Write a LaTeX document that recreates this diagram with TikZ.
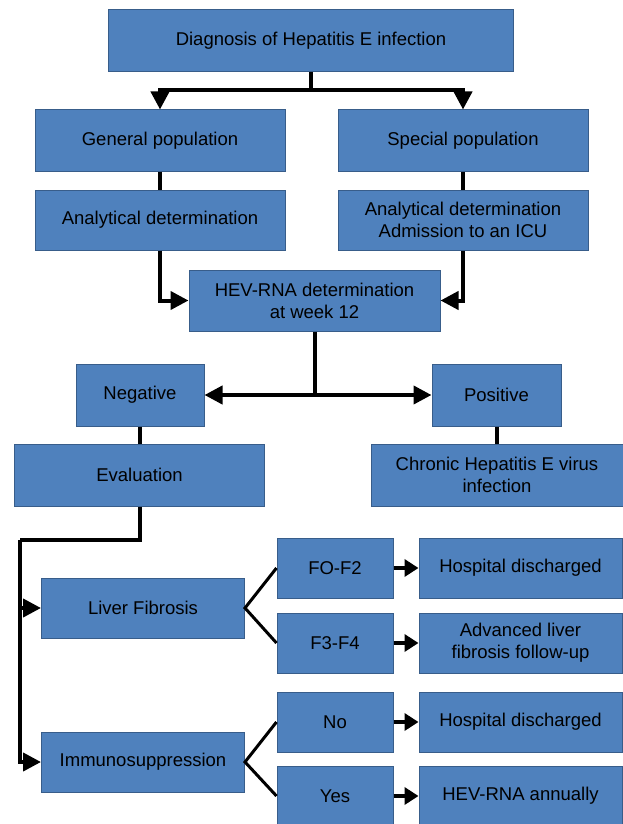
\documentclass[tikz,border=0pt]{standalone}
\usepackage{fontspec}
\setmainfont{Liberation Sans}
\usetikzlibrary{arrows.meta}
\definecolor{boxfill}{RGB}{79,129,189}
\definecolor{boxedge}{RGB}{56,93,138}

\begin{document}
\begin{tikzpicture}
	[x=1pt,y=-1pt,
	 every node/.style={rectangle,draw=boxedge,fill=boxfill,line width=1pt,inner sep=0pt,align=center,font=\fontsize{18.5}{22}\selectfont},
	 wide/.style={minimum width=250pt,minimum height=61pt},
	 mid/.style={minimum width=203pt,minimum height=60pt},
	 small/.style={minimum width=116pt,minimum height=60pt},
	 link/.style={line width=4pt},
	 branch/.style={line width=3pt},
	 arr/.style={line width=4pt,-{Triangle[width=18pt,length=18pt]}},
	 arrsmall/.style={line width=4pt,-{Triangle[width=17pt,length=14pt]}}]
	\useasboundingbox (0,0) rectangle (623,824);

	% diagnosis
	\node  (diag) at      (311,40.5)    [minimum width=405pt,minimum height=62pt] {Diagnosis of Hepatitis E infection};

	% populations
	\node  (gen) at       (160,140.5)   [wide]  {General population};
	\node  (spec) at      (463,140.5)   [wide]  {Special population};
	\node  (anagen) at    (160,220)     [wide,minimum height=60pt]  {Analytical determination};
	\node  (anaspec) at   (463,220)     [wide,minimum height=60pt]  {Analytical determination\\Admission to an ICU};

	% HEV-RNA
	\node  (hev) at       (314.5,300.5) [minimum width=251pt,minimum height=61pt] {HEV-RNA determination\\at week 12};
	\node  (neg) at       (140,395)     [minimum width=128pt,minimum height=62pt] {Negative};
	\node  (pos) at       (496.5,395)   [minimum width=129pt,minimum height=62pt] {Positive};
	\node  (eval) at      (139.5,475)   [wide,minimum height=62pt]  {Evaluation};
	\node  (chron) at     (497,475)     [minimum width=252pt,minimum height=62pt] {Chronic Hepatitis E virus\\infection};

	% Liver fibrosis
	\node  (liver) at     (143,608)     [mid]   {Liver Fibrosis};
	\node  (f02) at       (335,568)     [small] {FO-F2};
	\node  (hd1) at       (520.5,568)   [mid]   {Hospital discharged};
	\node  (f34) at       (335,643)     [small] {F3-F4};
	\node  (adv) at       (520.5,643)   [mid]   {Advanced liver\\fibrosis follow-up};

	% Immunosuppression
	\node  (immuno) at    (143,762)     [mid]   {Immunosuppression};
	\node  (no) at        (335,722)     [small] {No};
	\node  (hd2) at       (520.5,722)   [mid]   {Hospital discharged};
	\node  (yes) at       (335,796)     [small] {Yes};
	\node  (hevann) at    (520.5,796)   [mid]   {HEV-RNA annually};

	\coordinate (split) at (311,90);
	\coordinate (fork) at (hev.south |- neg.east);
	\coordinate (bend) at (20,540);

	\draw[link] (diag.south) -- (split);
	\draw[arr]  (split) -| (gen.north);
	\draw[arr]  (split) -| (spec.north);
	\draw[link] (gen.south) -- (anagen.north)
	            (spec.south) -- (anaspec.north);
	\draw[arr]  (anagen.south) |- (hev.west);
	\draw[arr]  (anaspec.south) |- (hev.east);

	% negative / positive
	\draw[link] (hev.south) -- (fork);
	\draw[arr]  (fork) -- (neg.east);
	\draw[arr]  (fork) -- (pos.west);
	\draw[link] (neg.south) -- (neg.south |- eval.north)
	            (pos.south) -- (pos.south |- chron.north);

	% evaluation
	\draw[link] (eval.south) |- (bend);
	\draw[arr]  (bend) |- (immuno.west);
	\draw[arr]  (bend |- liver.west) -- (liver.west);

	\draw[branch] (f02.west) -- (liver.east) -- (f34.west);
	\draw[branch] (no.west) -- (immuno.east) -- (yes.west);

	\draw[arrsmall] (f02) -- (hd1);
	\draw[arrsmall] (f34) -- (adv);
	\draw[arrsmall] (no) -- (hd2);
	\draw[arrsmall] (yes) -- (hevann);
\end{tikzpicture}
\end{document}
